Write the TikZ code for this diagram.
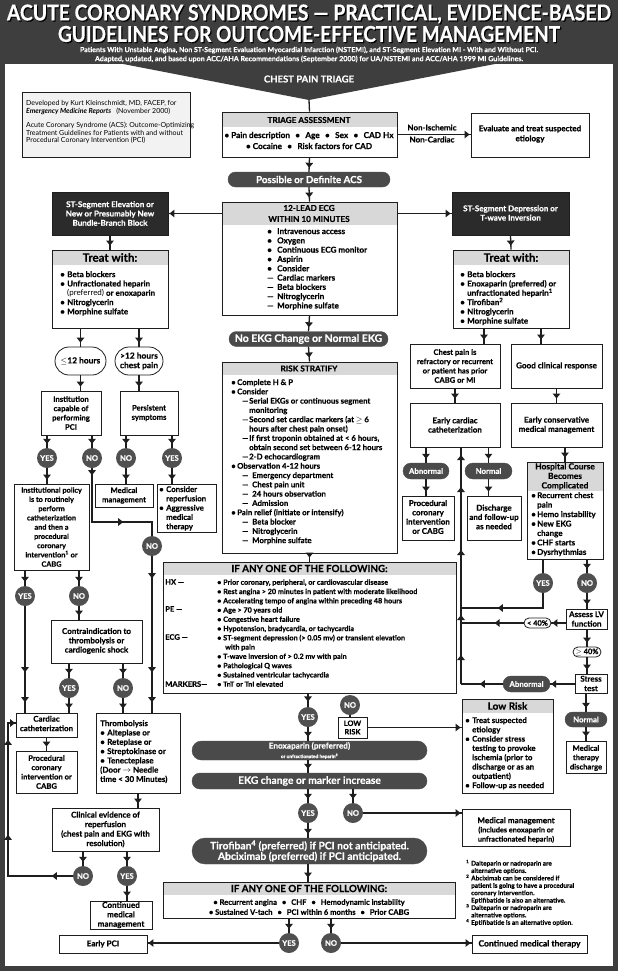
\documentclass[tikz,border=0pt]{standalone}
\usepackage{fontspec}
\setmainfont{Lato}[BoldFeatures={FakeBold=0.4}]
\usetikzlibrary{arrows.meta,decorations.markings,shapes.misc,shadows}
\definecolor{framec}{HTML}{3E3E3E}
\definecolor{dboxc}{HTML}{2B2B2B}
\definecolor{pillc}{HTML}{4A4A4A}
\definecolor{circc}{HTML}{505050}
\definecolor{hdrc}{HTML}{D8D8D8}
\definecolor{infoc}{HTML}{F2F2F2}
\definecolor{linec}{HTML}{1E1E1E}
\newcommand\bw[1]{\makebox[#1pt][l]{\textbullet}}
\newcommand\dw[1]{\makebox[#1pt][l]{—}}
\newcommand\iw[1]{\hspace*{#1pt}}
\newcommand\sepb{\hspace{0.65em}\textbullet\hspace{0.65em}}
\newcommand\fs[2]{\fontsize{#1}{#2}\selectfont\bfseries}
\newcommand\fitem{\fs{7.6}{9.3}}
\newcommand\fhead{\fs{8.2}{11}}
\newcommand\fpill{\fs{9.8}{11}}
\newcommand\fsp{\fs{7.8}{8}}
\newcommand\BX[6][]{\node[bx,minimum width={(#5-#3)*1pt},minimum height={(#6-#4)*1pt},#1] (#2) at ({(#3+#5)/2},{(#4+#6)/2}) {};}
\tikzset{
 bx/.style={draw=linec,line width=0.9pt,fill=white,inner sep=0pt,
   drop shadow={shadow xshift=1.2pt,shadow yshift=-1.2pt,fill=black!40,opacity=1}},
 dbx/.style={fill=dboxc},
 hdr/.style={path picture={\fill[hdrc] (path picture bounding box.north west) rectangle ([yshift=-#1pt]path picture bounding box.north east);}},
 pill/.style={rounded rectangle,fill=pillc,draw=pillc,text=white,font=\fpill,inner sep=0pt},
 wpill/.style={rounded rectangle,draw=linec,line width=0.8pt,fill=white,inner sep=0pt,font=\fs{8.4}{9.5}},
 circ/.style={circle,fill=circc,text=white,minimum size=20pt,inner sep=0pt,font=\fs{7.6}{8}},
 txt/.style={inner sep=0pt,align=center,font=\fitem},
 wtx/.style={txt,text=white,font=\fs{8}{9.3}},
 ltx/.style={inner sep=0pt,align=left,anchor=north west,font=\fitem},
 htx/.style={inner sep=0pt,align=center,font=\fhead},
 con/.style={draw=linec,line width=1.3pt},
 amark/.style={postaction={decorate,decoration={markings,mark=at position #1 with {\arrow{Triangle[width=7.5pt,length=5pt]}}}}},
 fl/.style={con,amark=-4pt},
 fe/.style={con,amark=-1pt},
 ttl/.style={inner sep=0pt,text=white,font=\bfseries},
}
\begin{document}
\begin{tikzpicture}[x=1pt,y=-1pt]
\useasboundingbox (0,0) rectangle (618,971);
% frame and header
\fill[framec] (0,0) rectangle (618,971);
\fill[white] (5,64) rectangle (613,966);
\fill[framec] (118,63) -- (500,63) -- (309,100) -- cycle;
\coordinate (apex) at (309,100);
\node[ttl,text=black] (t1s) at (310.2,15.2) {\resizebox{604pt}{16pt}{ACUTE CORONARY SYNDROMES — PRACTICAL, EVIDENCE-BASED}};
\node[ttl] (t1) at (309,14) {\resizebox{604pt}{16pt}{ACUTE CORONARY SYNDROMES — PRACTICAL, EVIDENCE-BASED}};
\node[ttl,text=black] (t2s) at (310.2,35.2) {\resizebox{502pt}{16pt}{GUIDELINES FOR OUTCOME-EFFECTIVE MANAGEMENT}};
\node[ttl] (t2) at (309,34) {\resizebox{502pt}{16pt}{GUIDELINES FOR OUTCOME-EFFECTIVE MANAGEMENT}};
\node[ttl,font=\fs{6}{7}] (s1) at (309,50) {\resizebox{458pt}{!}{Patients With Unstable Angina, Non ST-Segment Evaluation Myocardial Infarction (NSTEMI), and ST-Segment Elevation MI - With and Without PCI.}};
\node[ttl,font=\fs{6}{7}] (s2) at (309,59) {\resizebox{428pt}{!}{Adapted, updated, and based upon ACC/AHA Recommendations (September 2000) for UA/NSTEMI and ACC/AHA 1999 MI Guidelines.}};
\node[ttl,font=\fs{9.5}{10}] (cpt) at (309,79) {CHEST PAIN TRIAGE};

% info box
\BX[fill=infoc]{info}{22}{92}{190}{157}
\node[ltx,font=\fontsize{7}{7.8}\selectfont] (info1) at (26,100) {Developed by Kurt Kleinschmidt, MD, FACEP, for\\\textbf{\textit{Emergency Medicine Reports}}\hspace{5pt}(November 2000)};
\node[ltx,font=\fontsize{7}{7.6}\selectfont] (info2) at (26,122) {Acute Coronary Syndrome (ACS): Outcome-Optimizing\\Treatment Guidelines for Patients with and without\\Procedural Coronary Intervention (PCI)};

% ---------- boxes: top / middle
\BX[hdr=15]{triage}{222}{112}{397}{157}
\node[htx] (triageh) at (309,120) {TRIAGE ASSESSMENT};
\node[txt,font=\fs{8.2}{11}] (triaget) at (309,140.5) {\textbullet{} Pain description\sepb Age\sepb Sex\sepb CAD Hx\\\textbullet{} Cocaine\sepb Risk factors for CAD};
\BX{evalb}{471}{113}{589}{157}
\node[txt,font=\fs{8}{10}] (evalt) at (530,134) {Evaluate and treat suspected\\etiology};
\node[txt,font=\fs{8}{8}] (nonisch) at (432,127.5) {Non-Ischemic};
\node[txt,font=\fs{8}{8}] (noncard) at (432,139.5) {Non-Cardiac};
\node[pill,minimum width=162pt,minimum height=15pt] (possible) at (309,179.5) {Possible or Definite ACS};

\BX[hdr=23]{ecg}{222}{202}{397}{315}
\node[htx] (ecgh) at (309,213.5) {12-LEAD ECG\\WITHIN 10 MINUTES};
\node[ltx,font=\fs{8.1}{9.3}] (ecgt) at (267,228) {\bw{10}Intravenous access\\\bw{10}Oxygen\\\bw{10}Continuous ECG monitor\\\bw{10}Aspirin\\\bw{10}Consider\\\dw{10}Cardiac markers\\\dw{10}Beta blockers\\\dw{10}Nitroglycerin\\\dw{10}Morphine sulfate};

\BX[dbx]{stelev}{52}{192}{168}{235}
\node[wtx] (stelevt) at (110,213.5) {ST-Segment Elevation or\\New or Presumably New\\Bundle-Branch Block};
\BX[dbx]{stdep}{452}{192}{569}{235}
\node[wtx] (stdept) at (510.5,213) {ST-Segment Depression or\\T-wave Inversion};

\BX[hdr=15]{treatL}{52}{250}{168}{328}
\node[htx,font=\fs{11.5}{12}] (treatLh) at (110,257.5) {Treat with:};
\node[ltx,font=\fs{8}{9.3}] (treatLt) at (60,271) {\bw{7}Beta blockers\\\bw{7}Unfractionated heparin\\\iw{7}{\mdseries(preferred)} or enoxaparin\\\bw{7}Nitroglycerin\\\bw{7}Morphine sulfate};
\BX[hdr=15]{treatR}{453}{250}{569}{328}
\node[htx,font=\fs{11.5}{12}] (treatRh) at (511,257.5) {Treat with:};
\node[ltx,font=\fs{8}{9.3}] (treatRt) at (460,271) {\bw{7}Beta blockers\\\bw{7}Enoxaparin (preferred) or\\\iw{7}unfractionated heparin\textsuperscript{1}\\\bw{7}Tirofiban\textsuperscript{2}\\\bw{7}Nitroglycerin\\\bw{7}Morphine sulfate};

% ---------- left column
\node[wpill,minimum width=51pt,minimum height=28pt] (p12a) at (80.5,361) {$\leq$12 hours};
\node[wpill,minimum width=48pt,minimum height=28pt,align=center] (p12b) at (139,361) {>12 hours\\chest pain};
\BX{inst}{41}{391}{101}{435}
\node[txt] (instt) at (71,413) {Institution\\capable of\\performing\\PCI};
\BX{persist}{120}{391}{178}{435}
\node[txt] (persistt) at (149,413) {Persistent\\symptoms};
\BX{policy}{14}{484}{89}{570}
\node[txt,font=\fs{7.3}{9.25}] (policyt) at (51.5,527) {Institutional policy\\is to routinely\\perform\\catheterization\\and then a\\procedural\\coronary\\intervention\textsuperscript{1} or\\CABG};
\BX{medm}{95}{484}{153}{507}
\node[txt] (medmt) at (124,495.5) {Medical\\management};
\BX{consider}{157}{484}{216}{532}
\node[ltx,font=\fs{7.8}{9.3}] (considert) at (159,486) {\bw{7}Consider\\\iw{7}reperfusion\\\bw{7}Aggressive\\\iw{7}medical\\\iw{7}therapy};
\BX{contra}{51}{620}{142}{663}
\node[txt,font=\fs{8}{9.3}] (contrat) at (96.5,641) {Contraindication to\\thrombolysis or\\cardiogenic shock};
\BX{cath}{16}{713}{77}{737}
\node[txt,font=\fs{7.9}{9.5}] (catht) at (46.5,723.5) {Cardiac\\catheterization};
\BX{thromb}{96}{713}{180}{793}
\node[ltx,font=\fs{8}{9.3}] (thrombt) at (100,720) {Thrombolysis\\\bw{7}Alteplase or\\\bw{7}Reteplase or\\\bw{7}Streptokinase or\\\bw{7}Tenecteplase\\(Door $\rightarrow$ Needle\\time < 30 Minutes)};
\BX{proc}{16}{751}{77}{793}
\node[txt,font=\fs{7.6}{9.3}] (proct) at (46.5,772) {Procedural\\coronary\\intervention or\\CABG};
\BX{clin}{52}{808}{159}{851}
\node[txt,font=\fs{8}{9.5}] (clint) at (105.5,829.5) {Clinical evidence of\\reperfusion\\(chest pain and EKG with\\resolution)};
\BX{contmed}{90}{901}{152}{929}
\node[txt,font=\fs{8.1}{9.4}] (contmedt) at (121,915) {Continued\\medical\\management};
\BX{epci}{59}{935}{147}{953}
\node[txt,font=\fs{8}{9}] (epcit) at (103,944) {Early PCI};

% ---------- middle column
\node[pill,font=\fs{10.5}{11},minimum width=159pt,minimum height=15pt] (noekg) at (308.5,339) {No EKG Change or Normal EKG};
\BX[hdr=13]{risk}{222}{362}{397}{553}
\node[htx] (riskh) at (309,368.5) {RISK STRATIFY};
\node[ltx,font=\fs{7.8}{9.3}] (riskt) at (231,379) {\bw{6}Complete H \& P\\\bw{6}Consider\\\iw{11}\dw{7}Serial EKGs or continuous segment\\\iw{18}monitoring\\\iw{11}\dw{7}Second set cardiac markers (at $\geq$ 6\\\iw{18}hours after chest pain onset)\\\iw{11}\dw{7}If first troponin obtained at < 6 hours,\\\iw{18}obtain second set between 6-12 hours\\\iw{11}\dw{7}2-D echocardiogram\\\bw{6}Observation 4-12 hours\\\iw{11}\dw{10}Emergency department\\\iw{11}\dw{10}Chest pain unit\\\iw{11}\dw{10}24 hours observation\\\iw{11}\dw{10}Admission\\\bw{6}Pain relief (initiate or intensify)\\\iw{11}\dw{10}Beta blocker\\\iw{11}\dw{10}Nitroglycerin\\\iw{11}\dw{10}Morphine sulfate};

\BX[hdr=13]{ifa}{163}{562}{456}{693}
\node[htx,font=\fs{9.8}{11}] (ifah) at (309.5,568.5) {IF ANY ONE OF THE FOLLOWING:};
\node[ltx] (hx) at (165,579) {HX —};
\node[ltx] (pe) at (165,606) {PE —};
\node[ltx] (ecgl) at (165,634) {ECG —};
\node[ltx] (mark) at (165,681) {MARKERS—};
\node[ltx,font=\fs{7.2}{9.27}] (ifat) at (217,579.2) {\bw{6}Prior coronary, peripheral, or cardiovascular disease\\\bw{6}Rest angina > 20 minutes in patient with moderate likelihood\\\bw{6}Accelerating tempo of angina within preceding 48 hours\\\bw{6}Age > 70 years old\\\bw{6}Congestive heart failure\\\bw{6}Hypotension, bradycardia, or tachycardia\\\bw{6}ST-segment depression (> 0.05 mv) or transient elevation\\\iw{8}with pain\\\bw{6}T-wave inversion of > 0.2 mv with pain\\\bw{6}Pathological Q waves\\\bw{6}Sustained ventricular tachycardia\\\bw{6}TnT or TnI elevated};

\BX{lowr}{338}{717}{367}{738}
\node[txt,font=\fs{7.4}{8.5}] (lowrt) at (352.5,727.5) {LOW\\RISK};
\node[pill,minimum width=235pt,minimum height=19pt,align=center] (enox) at (309.5,750.5) {{\fs{8.2}{8}Enoxaparin (preferred)}\\[-1.5pt]{\fs{4.8}{5}or unfractionated heparin\textsuperscript{3}}};
\node[pill,font=\fs{10.3}{11},minimum width=235pt,minimum height=16pt] (ekgc) at (309.5,781) {EKG change or marker increase};
\node[pill,font=\fs{10.3}{10.5},minimum width=235pt,minimum height=26pt,align=center] (tiro) at (309.5,851) {Tirofiban\textsuperscript{4} (preferred) if PCI not anticipated.\\Abciximab (preferred) if PCI anticipated.};
\BX[hdr=13]{ifb}{163}{882}{455}{918}
\node[htx,font=\fs{9.8}{11}] (ifbh) at (309,888.5) {IF ANY ONE OF THE FOLLOWING:};
\node[txt,font=\fs{7.6}{10}] (ifbt) at (309,907) {\textbullet{} Recurrent angina\sepb CHF\sepb Hemodynamic instability\\\textbullet{} Sustained V-tach\sepb PCI within 6 months\sepb Prior CABG};

% ---------- right column
\BX{chest}{410}{344}{500}{388}
\node[txt] (chestt) at (455,366) {Chest pain is\\refractory or recurrent\\or patient has prior\\CABG or MI};
\BX{good}{511}{344}{602}{388}
\node[txt,font=\fs{8.1}{9.3}] (goodt) at (556.5,366) {Good clinical response};
\BX{ecath}{410}{403}{500}{447}
\node[txt,font=\fs{8}{9.3}] (ecatht) at (455,425) {Early cardiac\\catheterization};
\BX{econs}{511}{403}{602}{447}
\node[txt,font=\fs{8}{9.3}] (econst) at (556.5,425) {Early conservative\\medical management};
\node[pill,font=\fsp,minimum width=46pt,minimum height=16pt] (abn1) at (426,471) {Abnormal};
\node[pill,font=\fsp,minimum width=47pt,minimum height=16pt] (nor1) at (488.5,471) {Normal};
\BX{proc2}{402}{496}{454}{540}
\node[txt,font=\fs{8}{9.3}] (proc2t) at (428,517) {Procedural\\coronary\\intervention\\or CABG};
\BX{disch}{467}{496}{521}{540}
\node[txt,font=\fs{8}{9.3}] (discht) at (494,517) {Discharge\\and follow-up\\as needed};
\BX[hdr=29]{hosp}{527}{462}{603}{559}
\node[txt,font=\fs{8.4}{9.5}] (hosph) at (565,476.5) {Hospital Course\\Becomes\\Complicated};
\node[ltx,font=\fs{8}{9.45}] (hospt) at (531,492) {\bw{6}Recurrent chest\\\iw{6}pain\\\bw{6}Hemo instability\\\bw{6}New EKG\\\iw{6}change\\\bw{6}CHF starts\\\bw{6}Dysrhythmias};
\BX{assess}{566}{609}{607}{629}
\node[txt,font=\fs{8}{9.5}] (assesst) at (586.5,619) {Assess LV\\function};
\node[wpill,font=\fs{7.4}{8},minimum width=27pt,minimum height=10pt] (lt40) at (537.5,623) {< 40\%};
\node[wpill,font=\fs{7.4}{8},minimum width=28pt,minimum height=10pt] (ge40) at (587,652) {$\geq$ 40\%};
\BX{stress}{575}{674}{607}{693}
\node[txt,font=\fs{8}{9.5}] (stresst) at (591,683.5) {Stress\\test};
\node[pill,font=\fsp,minimum width=47pt,minimum height=16pt] (abn2) at (526.5,684) {Abnormal};
\node[pill,font=\fsp,minimum width=42pt,minimum height=15pt] (nor2) at (586,719.5) {Normal};
\BX{medth}{566}{741}{606}{773}
\node[txt] (medtht) at (586,758) {Medical\\therapy\\discharge};
\BX[hdr=14]{lowbox}{462}{699}{553}{793}
\node[htx,font=\fs{10}{11}] (lowboxh) at (507.5,706) {Low Risk};
\node[ltx,font=\fs{7.8}{9.3}] (lowboxt) at (465,717) {\bw{7}Treat suspected\\\iw{7}etiology\\\bw{7}Consider stress\\\iw{7}testing to provoke\\\iw{7}ischemia (prior to\\\iw{7}discharge or as an\\\iw{7}outpatient)\\\bw{7}Follow-up as needed};
\BX{medm2}{462}{809}{570}{846}
\node[txt,font=\fs{7.3}{9.2}] (medm2t) at (516,830) {{\fs{8.1}{9}Medical management}\\(includes enoxaparin or\\unfractionated heparin)};
\node[ltx,font=\fs{6.4}{7.4}] (notes) at (466,859.6) {\makebox[5pt][l]{\textsuperscript{1}}Dalteparin or nadroparin are\\\iw{5}alternative options.\\\makebox[5pt][l]{\textsuperscript{2}}Abciximab can be considered if\\\iw{5}patient is going to have a procedural\\\iw{5}coronary intervention.\\\iw{5}Eptifibatide is also an alternative.\\\makebox[5pt][l]{\textsuperscript{3}}Dalteparin or nadroparin are\\\iw{5}alternative options.\\\makebox[5pt][l]{\textsuperscript{4}}Eptifibatide is an alternative option.};
\BX{contth}{472}{935}{587}{953}
\node[txt,font=\fs{8.5}{9}] (contthtx) at (529.5,944) {Continued medical therapy};

% ---------- circles
\node[circ] (y1) at (47,458) {YES};
\node[circ] (n1) at (92,458) {NO};
\node[circ] (n2) at (126,458) {NO};
\node[circ] (y2) at (172,458) {YES};
\node[circ] (n3) at (152,546) {NO};
\node[circ] (y3) at (25,596) {YES};
\node[circ] (n4) at (79,596) {NO};
\node[circ] (y4) at (69,688) {YES};
\node[circ] (n5) at (123,688) {NO};
\node[circ] (n6) at (83,876) {NO};
\node[circ] (y5) at (127,876) {YES};
\node[circ] (y6) at (308,717) {YES};
\node[circ] (n8) at (350,705) {NO};
\node[circ] (y8) at (308,813) {YES};
\node[circ] (n9) at (353,813) {NO};
\node[circ] (y7) at (289,943) {YES};
\node[circ] (n7) at (331,943) {NO};
\node[circ] (y9) at (543,583) {YES};
\node[circ] (n10) at (587,583) {NO};

\coordinate (nc1) at (92,522);
\coordinate (lc1) at (8,876);
\coordinate (lc2) at (8,723);
\coordinate (j1) at (461,608);
\coordinate (j2) at (461,623);
\coordinate (jv) at (461,684);

% ---------- connectors: top
\draw[con] (apex) -- (triage.north);
\draw[fe] (triage.east) -- (triage.east -| evalb.west);
\draw[fl] (triage.south) -- (possible.north);
\draw[fl] (possible.south) -- (ecg.north);
\draw[fe] (stelev.east -| ecg.west) -- (stelev.east);
\draw[fe] (stdep.west -| ecg.east) -- (stdep.west);
\draw[fl] (stelev.south) -- (treatL.north);
\draw[fl] (stdep.south) -- (treatR.north);
% left
\draw[fl] (treatL.south -| p12a) -- (p12a.north);
\draw[fl] (treatL.south -| p12b) -- (p12b.north);
\draw[fl] (p12a.south) -- (p12a.south |- inst.north);
\draw[fl] (p12b.south) -- (p12b.south |- persist.north);
\draw[fl] (inst.south -| y1) -- (y1.north);
\draw[fl] (inst.south -| n1) -- (n1.north);
\draw[fl] (persist.south -| n2) -- (n2.north);
\draw[fl] (persist.south -| y2) -- (y2.north);
\draw[fl] (y1.south) -- (y1.south |- policy.north);
\draw[fl] (n2.south) -- (n2.south |- medm.north);
\draw[fl] (y2.south) -- (y2.south |- consider.north);
\draw[con,amark=7pt,amark=85pt] (n1.south) -- (nc1) -- (nc1 -| n3) -- (n3.north);
\draw[con,amark=22pt,amark=116pt,amark=146pt] (n3.south) -- (n3.south |- thromb.north);
\draw[fl] (policy.south -| y3) -- (y3.north);
\draw[fl] (policy.south -| n4) -- (n4.north);
\draw[con,amark=66pt,amark=96pt] (y3.south) -- (y3.south |- cath.north);
\draw[fl] (n4.south) -- (n4.south |- contra.north);
\draw[fl] (contra.south -| y4) -- (y4.north);
\draw[fl] (contra.south -| n5) -- (n5.north);
\draw[fl] (y4.south) -- (y4.south |- cath.north);
\draw[fl] (n5.south) -- (n5.south |- thromb.north);
\draw[fl] (cath.south) -- (proc.north);
\draw[fl] (thromb.south -| 138,0) -- (clin.north -| 138,0);
\draw[fl] (clin.south -| n6) -- (n6.north);
\draw[fl] (clin.south -| y5) -- (y5.north);
\draw[con,amark=21pt,amark=106pt,amark=201pt,amark=-0.5pt] (n6.west) -- (lc1) -- (lc2) -- (lc2 -| cath.west);
\draw[fl] (y5.south) -- (y5.south |- contmed.north);
\draw[fe] (y7.west) -- (y7.west -| epci.east);
% middle
\draw[fl] (ecg.south) -- (noekg.north);
\draw[fl] (noekg.south) -- (risk.north);
\draw[fl] (risk.south) -- (ifa.north);
\draw[con,amark=8pt] (ifa.south -| y6) -- (y6.north);
\draw[con] (n8.south) -- (n8.south |- lowr.north);
\draw[fe] (lowr.east) -- (lowr.east -| lowbox.west);
\draw[fl] (y6.south) -- (y6.south |- enox.north);
\draw[fl] (enox.south -| y6) -- (ekgc.north -| y6);
\draw[fl] (ekgc.south -| y8) -- (y8.north);
\draw[fl] (ekgc.south -| n9) -- (n9.north);
\draw[fe] (n9.east) -- (n9.east -| medm2.west);
\draw[fl] (y8.south) -- (y8.south |- tiro.north);
\draw[fl] (tiro.south -| y8) -- (ifb.north -| y8);
\draw[fl] (ifb.south -| y7) -- (y7.north);
\draw[fl] (ifb.south -| n7) -- (n7.north);
\draw[fe] (n7.east) -- (n7.east -| contth.west);
% right
\draw[fl] (treatR.south -| 484,0) -- (chest.north -| 484,0);
\draw[fl] (treatR.south -| 541,0) -- (good.north -| 541,0);
\draw[fl] (chest.south) -- (ecath.north);
\draw[fl] (good.south) -- (econs.north);
\draw[fl] (ecath.south -| abn1) -- (abn1.north);
\draw[fl] (ecath.south -| nor1) -- (nor1.north);
\draw[fl] (abn1.south) -- (abn1.south |- proc2.north);
\draw[fl] (nor1.south) -- (nor1.south |- disch.north);
\draw[fl] (econs.south -| hosp) -- (hosp.north);
\draw[con] (hosp.south -| y9) -- (y9.north);
\draw[fl] (hosp.south -| n10) -- (n10.north);
\draw[con,amark=60pt] (y9.south) |- (j1);
\draw[fl] (n10.south) -- (n10.south |- assess.north);
\draw[fe] (lt40.east -| assess.west) -- (lt40.east);
\draw[con,amark=29pt] (lt40.west) -- (j2);
\draw[fl] (assess.south -| ge40) -- (ge40.north);
\draw[fl] (ge40.south) -- (ge40.south |- stress.north);
\draw[fe] (abn2.east -| stress.west) -- (abn2.east);
\draw[con,amark=23pt] (abn2.west) -- (jv);
\draw[con,amark=29pt,amark=69pt,amark=134pt,amark=197pt,amark=229pt] (jv) -- (jv |- ecath.south);
\draw[fl] (stress.south -| nor2) -- (nor2.north);
\draw[fl] (nor2.south) -- (nor2.south |- medth.north);
\end{tikzpicture}
\end{document}
